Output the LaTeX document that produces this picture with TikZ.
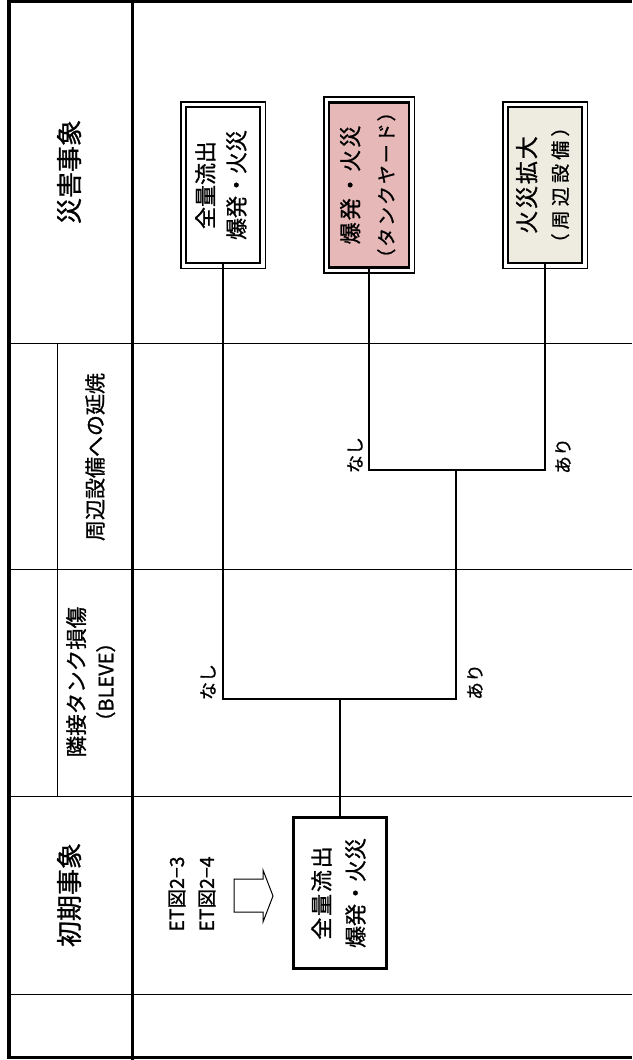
\documentclass[tikz,border=0pt]{standalone}
\usepackage{fontspec}
\usepackage{graphicx}
\newfontfamily\jp[FakeBold=1]{Noto Sans CJK JP}
\newcommand\fsz[2]{\fontsize{#1pt}{#2pt}\selectfont}
\newcommand\ls[1]{\addfontfeatures{LetterSpace=#1}}
\definecolor{evpink}{HTML}{E6B9B8}
\definecolor{evbeige}{HTML}{EEECE1}
% #1 size of line 1, #2 line distance, #3 line 1, #4 size of line 2, #5 line 2
\newcommand\twolines[5]{{\fsz{#1}{#2}\rotatebox{90}{\begin{tabular}{@{}c@{}}#3\\\fsz{#4}{#2}#5\end{tabular}}}}
\begin{document}
\begin{tikzpicture}[x=1pt,y=-1pt,
  every node/.style={inner sep=0pt, font=\jp},
  frame/.style={line width=3.3pt, line join=miter},
  rule/.style={line width=1pt},
  conn/.style={line width=1.3pt},
  evbox/.style={draw, line width=2.6pt, minimum height=156pt},
  outerline/.style={line width=1.6pt},
  initbox/.style={draw, line width=3.3pt, minimum width=92.7pt, minimum height=150.7pt},
  hdr/.style={rotate=90, font=\jp\fsz{26}{30}},
  lbl/.style={rotate=90, font=\jp\fsz{18}{20}},
  etlbl/.style={rotate=90, font=\jp\fsz{19.5}{22}},
  blockarrow/.style={draw, line width=1pt, line join=miter},
]
\useasboundingbox (0,0) rectangle (632,1060);
% table rules
\foreach \yy in {343,569,796,994} \draw[rule] (9,\yy) -- (632,\yy);
\draw[rule] (57.5,343) -- (57.5,796);
\draw[frame] (132.4,0) -- (132.4,1060);
\draw[frame] (632,1.4) -- (9,1.4) -- (9,1057.4) -- (632,1057.4);
% row headers
\node[hdr] (h1) at (69,172) {災害事象};
\node[rotate=90, font=\jp\fsz{21}{25}] (h2) at (95,457) {周辺設備への延焼};
\node[rotate=90] (h3) at (93,682) {\fsz{21.5}{29}\begin{tabular}{@{}c@{}}隣接タンク損傷\\\fsz{20}{29}（BLEVE）\end{tabular}};
\node[hdr] (h4) at (69,895) {初期事象};
% result boxes
\node[evbox, minimum width=74pt] (r1) at (223,185) {\twolines{22}{31}{全量流出}{22}{爆発・火災}};
\node[evbox, minimum width=80pt, fill=evpink] (r2) at (369,185) {\twolines{22}{35}{\ls{10}爆発・火災}{19}{\ls{10}（タンクヤード）}};
\node[evbox, minimum width=74pt, fill=evbeige] (r3) at (545,185) {\twolines{23}{32}{\ls{8}火災拡大}{19}{\ls{22}（周辺設備）}};
\foreach \n in {r1,r2,r3}
  \draw[outerline] ([xshift=-4pt,yshift=-4pt]\n.south west) rectangle ([xshift=4pt,yshift=4pt]\n.north east);
% initial event
\node[initbox] (a) at (340,893) {\twolines{22}{34}{\ls{8}全量流出}{22}{爆発・火災}};
\node[etlbl] (et1) at (177,894) {ET図2−3};
\node[etlbl] (et2) at (207,894) {ET図2−4};
\draw[blockarrow] (234,879) -- (263,879) -- (263,870) -- (273,896) -- (263,922) -- (263,912) -- (234,912) -- cycle;
% event tree connectors
\coordinate (j0) at (340,699);
\coordinate (j1) at (456,470);
\draw[conn] (a.north) -- (j0);
\draw[conn] (r1.south) |- (j0);
\draw[conn] (j0) -| (j1);
\draw[conn] (r2.south) |- (j1);
\draw[conn] (r3.south) |- (j1);
% branch labels
\node[lbl] (n1) at (208,682) {なし};
\node[lbl] (y1) at (475,682) {あり};
\node[lbl] (n2) at (355,455) {なし};
\node[lbl] (y2) at (563,456) {あり};
\end{tikzpicture}
\end{document}
